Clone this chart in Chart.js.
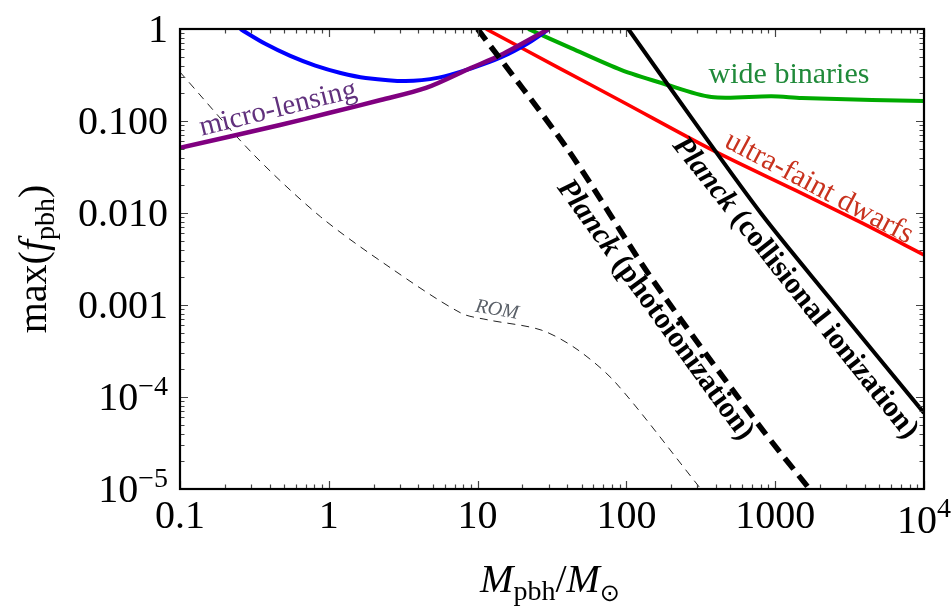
<!DOCTYPE html>
<html>
<head>
<meta charset="utf-8">
<script src="https://cdn.jsdelivr.net/npm/chart.js@4.4.1/dist/chart.umd.min.js"></script>
<style>
  body { margin: 0; background: #fff; }
  #wrap { width: 952px; height: 613px; }
</style>
</head>
<body>
<div id="wrap"><canvas id="pbh" width="952" height="613"></canvas></div>
<script>
// values (x = M_pbh / M_sun, y = max f_pbh)
var blueX = [0.254, 0.374, 0.551, 0.812, 1.2, 1.77, 3.28, 5.48, 9.0, 14.3, 21.8, 30.2];
var blueY = [1, 0.69, 0.51, 0.40, 0.333, 0.294, 0.272, 0.296, 0.372, 0.49, 0.7, 1];

var lensX = [0.1, 0.47, 1, 2.23, 4.5, 9.0, 14.3, 30];
var lensY = [0.051, 0.0905, 0.122, 0.169, 0.229, 0.377, 0.52, 1];

var dwarfX = [11.4, 36.4, 92, 391, 1352, 3820, 10000];
var dwarfY = [1, 0.367, 0.165, 0.047, 0.0178, 0.0078, 0.0035];

var binX = [21.9, 42.5, 92, 172, 372, 946, 1507, 4470, 10000];
var binY = [1, 0.62, 0.36, 0.259, 0.182, 0.186, 0.178, 0.169, 0.165];

var collX = [103, 274, 809, 2290, 10000];
var collY = [1, 0.108, 0.00975, 0.00122, 0.000067];

var photoX = [10, 40.6, 147, 773, 1700];
var photoY = [1, 0.0484, 0.00197, 0.00005, 0.00001];

var romX = [0.1, 0.305, 0.88, 2.63, 7.7, 11.7, 26.7, 47.3, 85, 302, 316];
var romY = [0.34, 0.0449, 0.0091, 0.0025, 0.00082, 0.00069, 0.000535, 0.000324, 0.000142, 0.000011, 0.00001];

var xTicks = [0.1, 1, 10, 100, 1000, 10000];
var xTickLabels = [['0.1'], ['1'], ['10'], ['100'], ['1000'], ['10', '4']];
var yTicks = [1, 0.1, 0.01, 0.001, 0.0001, 0.00001];
var yTickLabels = [['1'], ['0.100'], ['0.010'], ['0.001'], ['10', '\u22124'], ['10', '\u22125']];

function pts(xs, ys) {
    return xs.map(function (x, i) { return { x: x, y: ys[i] }; });
}

function line(data, color, width, dash) {
    return {
        data: data,
        borderColor: color,
        borderWidth: width,
        borderDash: dash || [],
        pointRadius: 0,
        fill: false,
        tension: 0.3,
        clip: 0
    };
}

var SERIF = '"Liberation Serif", "DejaVu Serif", serif';

// text made of runs: [text, font, dy]
function runsWidth(ctx, runs) {
    var w = 0;
    runs.forEach(function (r) { ctx.font = r[1]; w += ctx.measureText(r[0]).width; });
    return w;
}
function drawRuns(ctx, runs, x, y, align) {
    var w = runsWidth(ctx, runs);
    var cx = align === 'right' ? x - w : (align === 'center' ? x - w / 2 : x);
    ctx.textAlign = 'left';
    runs.forEach(function (r) {
        ctx.font = r[1];
        ctx.fillText(r[0], cx, y + (r[2] || 0));
        cx += ctx.measureText(r[0]).width;
    });
}
function label(ctx, runs, x, y, angle, color) {
    ctx.save();
    ctx.translate(x, y);
    ctx.rotate(angle * Math.PI / 180);
    ctx.fillStyle = color;
    ctx.textBaseline = 'middle';
    drawRuns(ctx, runs, 0, 0, 'center');
    ctx.restore();
}

var decor = {
    id: 'decor',
    afterDatasetsDraw: function (chart) {
        var ctx = chart.ctx, a = chart.chartArea;
        var xs = chart.scales.x, ys = chart.scales.y;

        // annotations
        label(ctx, [['micro-lensing', '29px ' + SERIF]], 278, 109, -14, '#61317d');
        label(ctx, [['wide binaries', '30px ' + SERIF]], 789, 75, 0, '#208a3a');
        label(ctx, [['ultra-faint dwarfs', '30px ' + SERIF]], 819, 188, 28, '#c8321e');
        label(ctx, [['Planck', 'italic bold 30px ' + SERIF], [' (photoionization)', 'bold 30px ' + SERIF]], 655, 310, 54, '#000');
        label(ctx, [['Planck', 'italic bold 30px ' + SERIF], [' (collisional ionization)', 'bold 30px ' + SERIF]], 795, 288, 51.5, '#000');
        label(ctx, [['ROM', 'italic 20px ' + SERIF]], 497, 310, 10, '#5a6068');

        // ticks on all four sides
        ctx.save();
        ctx.strokeStyle = '#444';
        ctx.lineWidth = 1.2;
        ctx.beginPath();
        var d, k, v, p, len;
        for (d = -1; d <= 3; d++) {
            for (k = 1; k <= 10; k++) {
                v = k * Math.pow(10, d);
                p = Math.round(xs.getPixelForValue(v)) + 0.5;
                len = (k === 1 || k === 10) ? 8 : 4.5;
                ctx.moveTo(p, a.bottom); ctx.lineTo(p, a.bottom - len);
                ctx.moveTo(p, a.top); ctx.lineTo(p, a.top + len);
            }
        }
        for (d = -5; d <= -1; d++) {
            for (k = 1; k <= 10; k++) {
                v = k * Math.pow(10, d);
                p = Math.round(ys.getPixelForValue(v)) + 0.5;
                len = (k === 1 || k === 10) ? 8 : 4.5;
                ctx.moveTo(a.left, p); ctx.lineTo(a.left + len, p);
                ctx.moveTo(a.right, p); ctx.lineTo(a.right - len, p);
            }
        }
        ctx.stroke();

        // frame
        ctx.strokeStyle = '#000';
        ctx.lineWidth = 2.2;
        ctx.strokeRect(a.left, a.top, a.right - a.left, a.bottom - a.top);

        // tick labels
        ctx.fillStyle = '#000';
        ctx.textBaseline = 'alphabetic';
        var big = '40px ' + SERIF, sup = '28px ' + SERIF;
        yTicks.forEach(function (t, i) {
            var py = ys.getPixelForValue(t);
            var l = yTickLabels[i];
            var runs = l.length > 1 ? [[l[0], big, 0], [l[1], sup, -15]] : [[l[0], big, 0]];
            drawRuns(ctx, runs, a.left - 12, py + 13, 'right');
        });
        xTicks.forEach(function (t, i) {
            var px = xs.getPixelForValue(t);
            var l = xTickLabels[i];
            if (l.length > 1) {
                drawRuns(ctx, [[l[0], big, 0], [l[1], sup, -16]], px, a.bottom + 44, 'center');
            } else {
                drawRuns(ctx, [[l[0], big, 0]], px, a.bottom + 39, 'center');
            }
        });

        // axis titles
        drawRuns(ctx, [['M', 'italic 40px ' + SERIF, 0], ['pbh', sup, 8], ['/', big, 0],
            ['M', 'italic 40px ' + SERIF, 0], ['\u2299', '24px "DejaVu Sans", sans-serif', 9]], 550, 592, 'center');
        ctx.save();
        ctx.translate(46, 259);
        ctx.rotate(-Math.PI / 2);
        drawRuns(ctx, [['max(', big, 0], ['f', 'italic 40px ' + SERIF, 0], ['pbh', sup, 8], [')', big, 0]], 0, 0, 'center');
        ctx.restore();
        ctx.restore();
    }
};

function build() {
    // first dataset ends up on top
    new Chart(document.getElementById('pbh'), {
        type: 'line',
        data: {
            datasets: [
                line(pts(photoX, photoY), '#000', 5.5, [14, 8]),
                line(pts(collX, collY), '#000', 4),
                line(pts(lensX, lensY), '#800080', 4.5),
                line(pts(blueX, blueY), '#0000ff', 4),
                line(pts(dwarfX, dwarfY), '#ff0000', 3.6),
                line(pts(binX, binY), '#00aa00', 4),
                line(pts(romX, romY), '#222', 1, [8, 6])
            ]
        },
        options: {
            responsive: false,
            devicePixelRatio: 1,
            animation: false,
            layout: { padding: { left: 180, right: 28, top: 29, bottom: 124 } },
            plugins: { legend: { display: false }, tooltip: { enabled: false } },
            scales: {
                x: { type: 'logarithmic', min: 0.1, max: 10000, display: false },
                y: { type: 'logarithmic', min: 0.00001, max: 1, display: false }
            }
        },
        plugins: [decor]
    });
}

Promise.all([
    document.fonts.load('40px "Liberation Serif"'),
    document.fonts.load('italic 40px "Liberation Serif"'),
    document.fonts.load('bold 30px "Liberation Serif"'),
    document.fonts.load('italic bold 30px "Liberation Serif"')
]).then(build, build);
</script>
</body>
</html>
